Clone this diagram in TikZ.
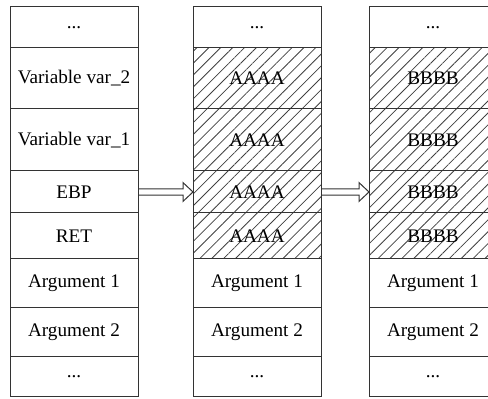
\documentclass[tikz,border=0pt]{standalone}
\usepackage{fontspec}
\setmainfont{Liberation Serif}
\usetikzlibrary{positioning,calc,patterns.meta}

\tikzset{
    cell/.style={rectangle, draw=black!80, line width=0.5pt, minimum width=64pt, inner sep=0pt, outer sep=0pt, font=\fontsize{9.6}{11}\selectfont},
    hatched/.style={cell, pattern={Lines[angle=45,distance=4.2pt,line width=0.4pt]}, pattern color=black!75},
}

\begin{document}
\begin{tikzpicture}
    \useasboundingbox (0,0) rectangle (244pt,199.5pt);

    % original stack
    \node (top1) [cell, minimum height=20.5pt, anchor=north west] at (5pt,196pt) {...};
    \node (vartwo1) [cell, minimum height=30.5pt, below=0pt of top1] {Variable var\_2};
    \node (varone1) [cell, minimum height=31pt, below=0pt of vartwo1] {Variable var\_1};
    \node (ebp1) [cell, minimum height=21pt, below=0pt of varone1] {EBP};
    \node (ret1) [cell, minimum height=23pt, below=0pt of ebp1] {RET};
    \node (argone1) [cell, minimum height=24.5pt, below=0pt of ret1] {Argument 1};
    \node (argtwo1) [cell, minimum height=24.5pt, below=0pt of argone1] {Argument 2};
    \node (bot1) [cell, minimum height=20pt, below=0pt of argtwo1] {...};

    % overwritten with AAAA
    \node (top2) [cell, minimum height=20.5pt, anchor=north west] at (96.5pt,196pt) {...};
    \node (vartwo2) [hatched, minimum height=30.5pt, below=0pt of top2] {AAAA};
    \node (varone2) [hatched, minimum height=31pt, below=0pt of vartwo2] {AAAA};
    \node (ebp2) [hatched, minimum height=21pt, below=0pt of varone2] {AAAA};
    \node (ret2) [hatched, minimum height=23pt, below=0pt of ebp2] {AAAA};
    \node (argone2) [cell, minimum height=24.5pt, below=0pt of ret2] {Argument 1};
    \node (argtwo2) [cell, minimum height=24.5pt, below=0pt of argone2] {Argument 2};
    \node (bot2) [cell, minimum height=20pt, below=0pt of argtwo2] {...};

    % overwritten with BBBB
    \node (top3) [cell, minimum height=20.5pt, anchor=north west] at (184.5pt,196pt) {...};
    \node (vartwo3) [hatched, minimum height=30.5pt, below=0pt of top3] {BBBB};
    \node (varone3) [hatched, minimum height=31pt, below=0pt of vartwo3] {BBBB};
    \node (ebp3) [hatched, minimum height=21pt, below=0pt of varone3] {BBBB};
    \node (ret3) [hatched, minimum height=23pt, below=0pt of ebp3] {BBBB};
    \node (argone3) [cell, minimum height=24.5pt, below=0pt of ret3] {Argument 1};
    \node (argtwo3) [cell, minimum height=24.5pt, below=0pt of argone3] {Argument 2};
    \node (bot3) [cell, minimum height=20pt, below=0pt of argtwo3] {...};

    % hollow arrows
    \foreach \from/\to in {ebp1/ebp2, ebp2/ebp3}
        \draw [black!80, line width=0.5pt, line join=miter]
            ($(\from.east)+(0,1.6pt)$) -- ($(\to.west)+(-5pt,1.6pt)$)
            -- ($(\to.west)+(-5pt,4.7pt)$) -- (\to.west)
            -- ($(\to.west)+(-5pt,-4.7pt)$) -- ($(\to.west)+(-5pt,-1.6pt)$)
            -- ($(\from.east)+(0,-1.6pt)$);
\end{tikzpicture}
\end{document}
